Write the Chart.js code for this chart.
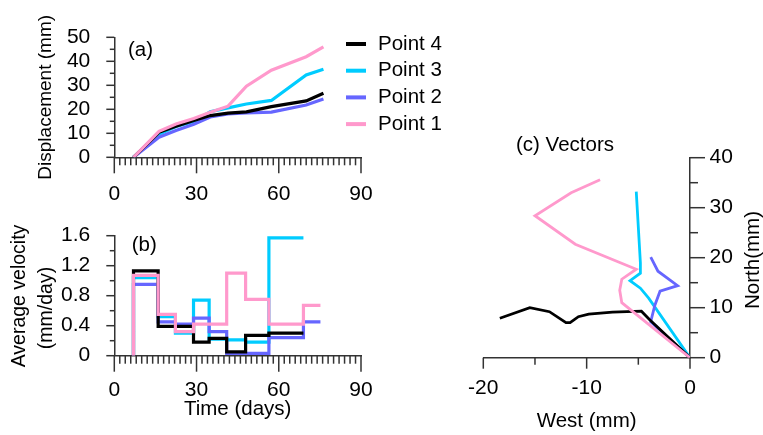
<!DOCTYPE html>
<html>
<head>
<meta charset="utf-8">
<title>Point displacement, velocity and vectors</title>
<script src="https://cdn.jsdelivr.net/npm/chart.js@4.4.1/dist/chart.umd.min.js"></script>
<style>
  html, body { margin: 0; padding: 0; background: #fff; }
  #wrap { position: relative; width: 763px; height: 435px; }
  #wrap canvas { position: absolute; left: 0; top: 0; }
</style>
</head>
<body>
<div id="wrap">
  <canvas id="dispChart" width="763" height="435"></canvas>
  <canvas id="velChart" width="763" height="435"></canvas>
  <canvas id="vecChart" width="763" height="435"></canvas>
</div>
<script>
// survey days and cumulative displacement (mm)
const dispDays = [7, 16.3, 22.5, 29, 35, 41.5, 48.2, 57.3, 70, 76.3];
const dispP4 = [0, 10.4, 12.9, 15.3, 17.4, 18.4, 18.9, 21.1, 23.5, 26.7];
const dispP3 = [0, 9.6, 12.8, 14.9, 19.0, 20.6, 22.2, 23.7, 34.3, 36.7];
const dispP2 = [0, 8.4, 11.2, 13.8, 16.8, 18.1, 18.5, 18.8, 21.8, 24.3];
const dispP1 = [0, 10.8, 13.9, 16.2, 18.8, 21.3, 29.6, 36.3, 41.9, 46.0];

// interval edges (days) and average velocity per interval (mm/day)
const stepDays = [7, 16, 22.3, 28.9, 34.6, 41, 47.9, 56.4, 69, 75.2];
const velP4 = [1.13, 0.39, 0.39, 0.18, 0.23, 0.05, 0.27, 0.30];
const velP3 = [1.04, 0.52, 0.30, 0.74, 0.22, 0.21, 0.18, 1.57];
const velP2 = [0.95, 0.45, 0.42, 0.50, 0.32, 0.03, 0.03, 0.24, 0.45];
const velP1 = [1.07, 0.55, 0.32, 0.42, 0.42, 1.10, 0.75, 0.42, 0.67];

// plan view of the movement paths (mm), west is negative
const westP4 = [0, -3.9, -4.7, -7.5, -9.8, -10.8, -11.6, -12.0, -13.6, -15.5, -18.4];
const northP4 = [0, 7.6, 9.3, 9.1, 8.7, 8.2, 7.0, 7.0, 9.2, 10.0, 7.9];
const westP3 = [0, -4.0, -4.8, -5.8, -4.8, -4.8, -5.2];
const northP3 = [0, 11.9, 13.9, 15.4, 16.9, 19.0, 33.2];
const westP2 = [0, -3.8, -3.4, -2.9, -1.2, -3.1, -3.8];
const northP2 = [0, 7.2, 10.5, 13.3, 14.4, 17.3, 20.1];
const westP1 = [0, -6.6, -6.8, -6.6, -5.2, -11.1, -15.0, -11.5, -8.7];
const northP1 = [0, 11.0, 13.5, 15.7, 17.7, 22.7, 28.4, 33.0, 35.6];

const pointNames = ['Point 4', 'Point 3', 'Point 2', 'Point 1'];
const pointColors = ['#000000', '#00ccff', '#6666ff', '#ff99cc'];
// stacking: Point 1 on top, then Point 4, Point 2, Point 3 underneath
const pointOrder = [1, 3, 2, 0];

// tick labels
const dayTicks = [0, 30, 60, 90];
const dispTicks = [0, 10, 20, 30, 40, 50];
const velTicks = [0, 0.4, 0.8, 1.2, 1.6];
const westTicks = [-20, -10, 0];
const northTicks = [0, 10, 20, 30, 40];

const FONT = '"Liberation Sans", Arial, sans-serif';
Chart.defaults.font.family = FONT;
Chart.defaults.font.size = 21;
Chart.defaults.color = '#000';
Chart.defaults.animation = false;

// outward tick marks, long at labelled values and short in between
const tickMarks = {
  id: 'tickMarks',
  afterDraw(chart, args, opts) {
    const ctx = chart.ctx;
    ctx.save();
    ctx.strokeStyle = '#333';
    ctx.lineWidth = 1.5;
    for (const id of Object.keys(opts.axes)) {
      const m = opts.axes[id];
      const s = chart.scales[id];
      const n = Math.round((s.max - s.min) / m.minor);
      for (let i = 0; i <= n; i++) {
        const v = s.min + i * m.minor;
        const r = v / m.major;
        const len = Math.abs(r - Math.round(r)) < 1e-6 ? m.majorLen : m.minorLen;
        const p = s.getPixelForValue(v);
        ctx.beginPath();
        if (s.position === 'bottom') {
          ctx.moveTo(p, s.top); ctx.lineTo(p, s.top + len);
        } else if (s.position === 'left') {
          ctx.moveTo(s.right, p); ctx.lineTo(s.right - len, p);
        } else {
          ctx.moveTo(s.left, p); ctx.lineTo(s.left + len, p);
        }
        ctx.stroke();
      }
    }
    ctx.restore();
  }
};

// free text: panel tags and rotated axis names
const notes = {
  id: 'notes',
  afterDraw(chart, args, opts) {
    const ctx = chart.ctx;
    ctx.save();
    ctx.fillStyle = '#000';
    ctx.textBaseline = 'middle';
    for (const t of opts.items) {
      ctx.save();
      ctx.font = (t.size || 20.5) + 'px ' + FONT;
      ctx.textAlign = t.align || 'left';
      ctx.translate(t.x, t.y);
      if (t.rotate) ctx.rotate(t.rotate);
      ctx.fillText(t.text, 0, 0);
      ctx.restore();
    }
    ctx.restore();
  }
};

// line key listing the datasets top to bottom
const lineKey = {
  id: 'lineKey',
  afterDraw(chart, args, opts) {
    const ctx = chart.ctx;
    ctx.save();
    ctx.font = '20.5px ' + FONT;
    ctx.textBaseline = 'middle';
    chart.data.datasets.forEach((ds, i) => {
      const y = opts.top + i * opts.gap;
      ctx.strokeStyle = ds.borderColor;
      ctx.lineWidth = 4;
      ctx.beginPath();
      ctx.moveTo(opts.left, y);
      ctx.lineTo(opts.left + 20, y);
      ctx.stroke();
      ctx.fillStyle = '#000';
      ctx.fillText(ds.label, opts.left + 32, y);
    });
    ctx.restore();
  }
};

function series(i, data, width, extra) {
  return Object.assign({
    label: pointNames[i],
    order: pointOrder[i],
    data: data,
    borderColor: pointColors[i],
    backgroundColor: pointColors[i],
    borderWidth: width,
    pointRadius: 0,
    showLine: true,
    fill: false
  }, extra || {});
}

function pairs(xs, ys) {
  return xs.map((x, i) => ({ x: x, y: ys[i] }));
}

// step outline: rise from zero, then hold each value until the next edge
function steps(vals) {
  const pts = [{ x: stepDays[0], y: 0 }];
  vals.forEach((v, i) => pts.push({ x: stepDays[i], y: v }));
  pts.push({ x: stepDays[vals.length], y: vals[vals.length - 1] });
  return pts;
}

function axis(ticks, position, size, pad, title) {
  return {
    type: 'linear',
    position: position,
    min: ticks[0],
    max: ticks[ticks.length - 1],
    afterBuildTicks: (s) => { s.ticks = ticks.map((v) => ({ value: v })); },
    afterFit: (s) => {
      if (position === 'bottom') s.height = size; else s.width = size;
    },
    ticks: { padding: pad, autoSkip: false, maxRotation: 0, callback: (v) => String(v) },
    grid: { display: false, drawTicks: false },
    border: { display: true, color: '#333', width: 1.5 },
    title: title || { display: false }
  };
}

const baseOptions = {
  responsive: false,
  maintainAspectRatio: false,
  devicePixelRatio: 1,
  events: []
};

// (a) displacement against time
new Chart(document.getElementById('dispChart'), {
  type: 'scatter',
  data: {
    datasets: [
      series(0, pairs(dispDays, dispP4), 3.2),
      series(1, pairs(dispDays, dispP3), 3.2),
      series(2, pairs(dispDays, dispP2), 3.2),
      series(3, pairs(dispDays, dispP1), 3.2)
    ]
  },
  options: Object.assign({}, baseOptions, {
    layout: { padding: { left: 0, top: 37.3, right: 402, bottom: 217.7 } },
    scales: {
      x: axis(dayTicks, 'bottom', 60, 24),
      y: axis(dispTicks, 'left', 114.3, 24, {
        display: true, text: 'Displacement (mm)', font: { size: 19 }, padding: { top: 34, bottom: 0 }
      })
    },
    plugins: {
      legend: { display: false },
      tooltip: { enabled: false },
      tickMarks: { axes: {
        x: { minor: 2, major: 30, majorLen: 16, minorLen: 8 },
        y: { minor: 5, major: 10, majorLen: 8, minorLen: 4.5 }
      } },
      notes: { items: [{ text: '(a)', x: 128, y: 50.7 }] },
      lineKey: { left: 346, top: 44, gap: 26.7 }
    }
  }),
  plugins: [tickMarks, notes, lineKey]
});

// (b) average velocity between surveys
new Chart(document.getElementById('velChart'), {
  type: 'scatter',
  data: {
    datasets: [
      series(0, steps(velP4), 3.2, { stepped: true }),
      series(1, steps(velP3), 3.2, { stepped: true }),
      series(2, steps(velP2), 3.2, { stepped: true }),
      series(3, steps(velP1), 3.2, { stepped: true })
    ]
  },
  options: Object.assign({}, baseOptions, {
    layout: { padding: { left: 0, top: 235.7, right: 402, bottom: 0 } },
    scales: {
      x: axis(dayTicks, 'bottom', 79.3, 22, {
        display: true, text: 'Time (days)', font: { size: 20.5 }, padding: { top: 0, bottom: 13 }
      }),
      y: axis(velTicks, 'left', 114.3, 24)
    },
    plugins: {
      legend: { display: false },
      tooltip: { enabled: false },
      tickMarks: { axes: {
        x: { minor: 2, major: 30, majorLen: 16, minorLen: 8 },
        y: { minor: 0.2, major: 0.4, majorLen: 8, minorLen: 4.5 }
      } },
      notes: { items: [
        { text: '(b)', x: 131.7, y: 245 },
        { text: 'Average velocity', x: 20, y: 296, align: 'center', rotate: -Math.PI / 2, size: 19.5 },
        { text: '(mm/day)', x: 47, y: 308, align: 'center', rotate: -Math.PI / 2, size: 19.5 }
      ] }
    }
  }),
  plugins: [tickMarks, notes]
});

// (c) displacement vectors in plan
new Chart(document.getElementById('vecChart'), {
  type: 'scatter',
  data: {
    datasets: [
      series(0, pairs(westP4, northP4), 2.8),
      series(1, pairs(westP3, northP3), 2.8),
      series(2, pairs(westP2, northP2), 2.8),
      series(3, pairs(westP1, northP1), 2.8)
    ]
  },
  options: Object.assign({}, baseOptions, {
    layout: { padding: { left: 483.3, top: 157.7, right: 0, bottom: 0 } },
    scales: {
      x: axis(westTicks, 'bottom', 77.3, 18, {
        display: true, text: 'West (mm)', font: { size: 20.5 }, padding: { top: 0, bottom: 1.3 }
      }),
      y: axis(northTicks, 'right', 73, 19.5)
    },
    plugins: {
      legend: { display: false },
      tooltip: { enabled: false },
      tickMarks: { axes: {
        x: { minor: 5, major: 10, majorLen: 11, minorLen: 7 },
        y: { minor: 5, major: 10, majorLen: 15, minorLen: 8 }
      } },
      notes: { items: [
        { text: '(c) Vectors', x: 565, y: 145, align: 'center' },
        { text: 'North(mm)', x: 753, y: 260, align: 'center', rotate: -Math.PI / 2 }
      ] }
    }
  }),
  plugins: [tickMarks, notes]
});
</script>
</body>
</html>
